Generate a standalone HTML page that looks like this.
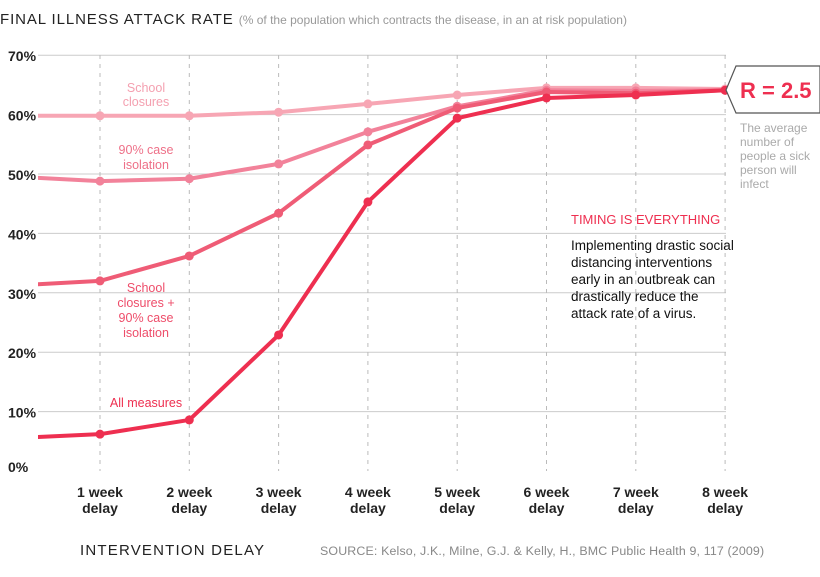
<!DOCTYPE html>
<html><head><meta charset="utf-8"><style>
body{margin:0;background:#fff;font-family:"Liberation Sans",sans-serif}
svg text{font-family:"Liberation Sans",sans-serif}
</style></head><body>
<svg width="820" height="572" viewBox="0 0 820 572">
<text x="0" y="24" font-size="15" fill="#222" letter-spacing="0.9">FINAL ILLNESS ATTACK RATE <tspan font-size="12" fill="#999" letter-spacing="0">(% of the population which contracts the disease, in an at risk population)</tspan></text>
<g id="grid"></g><g id="series"></g><g id="labels"></g>
<text x="80" y="555" font-size="15" fill="#222" letter-spacing="1.2">INTERVENTION DELAY</text>
<text x="320" y="555" font-size="12.4" fill="#888" letter-spacing="0.15">SOURCE: Kelso, J.K., Milne, G.J. &amp; Kelly, H., BMC Public Health 9, 117 (2009)</text>
<polygon points="736,66 820,66 820,113 736,113 726,90" fill="#fff" stroke="#555" stroke-width="1.2"/>
<text x="740" y="98" font-size="22" font-weight="bold" fill="#ee2f50">R = 2.5</text>
<g font-size="12" fill="#aaa">
<text x="740" y="132">The average</text><text x="740" y="146">number of</text><text x="740" y="160">people a sick</text><text x="740" y="174">person will</text><text x="740" y="188">infect</text></g>
<text x="571" y="224" font-size="13" fill="#ee2f50">TIMING IS EVERYTHING</text>
<g font-size="13.5" fill="#111">
<text x="571" y="250">Implementing drastic social</text><text x="571" y="267">distancing interventions</text><text x="571" y="284">early in an outbreak can</text><text x="571" y="301">drastically reduce the</text><text x="571" y="318">attack rate of a virus.</text></g>
</svg>
<script>
const categories=["No delay","1 week delay","2 week delay","3 week delay","4 week delay","5 week delay","6 week delay","7 week delay","8 week delay"];
const yTicks=[0,10,20,30,40,50,60,70];
const schoolClosures=[59.8,59.8,59.8,60.4,61.8,63.3,64.5,64.5,64.3];
const caseIsolation=[49.6,48.8,49.2,51.7,57.1,61.4,64.1,64.0,64.1];
const schoolPlusIsolation=[31.2,32.0,36.2,43.4,54.9,61.1,63.8,63.6,64.1];
const allMeasures=[5.5,6.2,8.6,22.9,45.3,59.4,62.8,63.3,64.1];
const NS="http://www.w3.org/2000/svg";
const x=i=>10.7+i*89.3;
const y=v=>471-v*5.94;
function mk(t,a,p){const e=document.createElementNS(NS,t);for(const k in a)e.setAttribute(k,a[k]);p.appendChild(e);return e;}
const grid=document.getElementById('grid'),ser=document.getElementById('series'),lab=document.getElementById('labels');
yTicks.forEach(v=>{
 if(v>0){const l=mk('line',{x1:38,x2:726,y1:y(v),y2:y(v),stroke:'#ccc','stroke-width':1},grid);
 
 }
 const t=mk('text',{x:8,y:(v>0?y(v)+6:472),'font-size':14,'font-weight':'bold',fill:'#222'},lab);
 t.textContent=v+'%';
 
 
});
categories.forEach((c,i)=>{
 if(i==0)return;
 const l=mk('line',{x1:x(i),x2:x(i),y1:55,y2:471,stroke:'#bbb','stroke-dasharray':'4,5'},grid);
 
 
 const t=mk('text',{x:x(i),y:497,'font-size':14,'font-weight':'bold',fill:'#222','text-anchor':'middle'},lab);
 
 
 const p=c.split(' ');
 mk('tspan',{x:x(i),dy:0},t).textContent=p[0]+' '+p[1];
 mk('tspan',{x:x(i),dy:16},t).textContent=p[2];
});
const cp=mk('clipPath',{id:'clip'},ser);
mk('rect',{x:38,y:0,width:700,height:572},cp);
const S=[[schoolClosures,'#f7a6b4','school-closures'],[caseIsolation,'#f2829a','case-isolation'],[schoolPlusIsolation,'#ef5c76','school-plus-isolation'],[allMeasures,'#ee2f50','all-measures']];
S.forEach(([d,col,n])=>{
 const g=mk('g',{'clip-path':'url(#clip)'},ser);
 
 
 const pl=mk('polyline',{points:d.map((v,i)=>x(i)+','+y(v)).join(' '),fill:'none',stroke:col,'stroke-width':4,'stroke-linejoin':'round'},g);
 
 
 d.forEach((v,i)=>{if(i==0)return;
  const c=mk('circle',{cx:x(i),cy:y(v),r:4.5,fill:col},g);
  
  });
});
[[146,92,'School','#f4a0b0','school-closures-label'],[146,106,'closures','#f4a0b0',''],[146,154,'90% case','#ee7088','case-isolation-label'],[146,169,'isolation','#ee7088',''],
[146,292,'School','#ee4d6a','combined-label'],[146,307,'closures +','#ee4d6a',''],[146,322,'90% case','#ee4d6a',''],[146,337,'isolation','#ee4d6a',''],[146,407,'All measures','#ee2f50','all-measures-label']].forEach(a=>{
 const t=mk('text',{x:a[0],y:a[1],'font-size':12.5,fill:a[3],'text-anchor':'middle'},lab);
 t.textContent=a[2];
 
 
});
</script>
</body></html>
